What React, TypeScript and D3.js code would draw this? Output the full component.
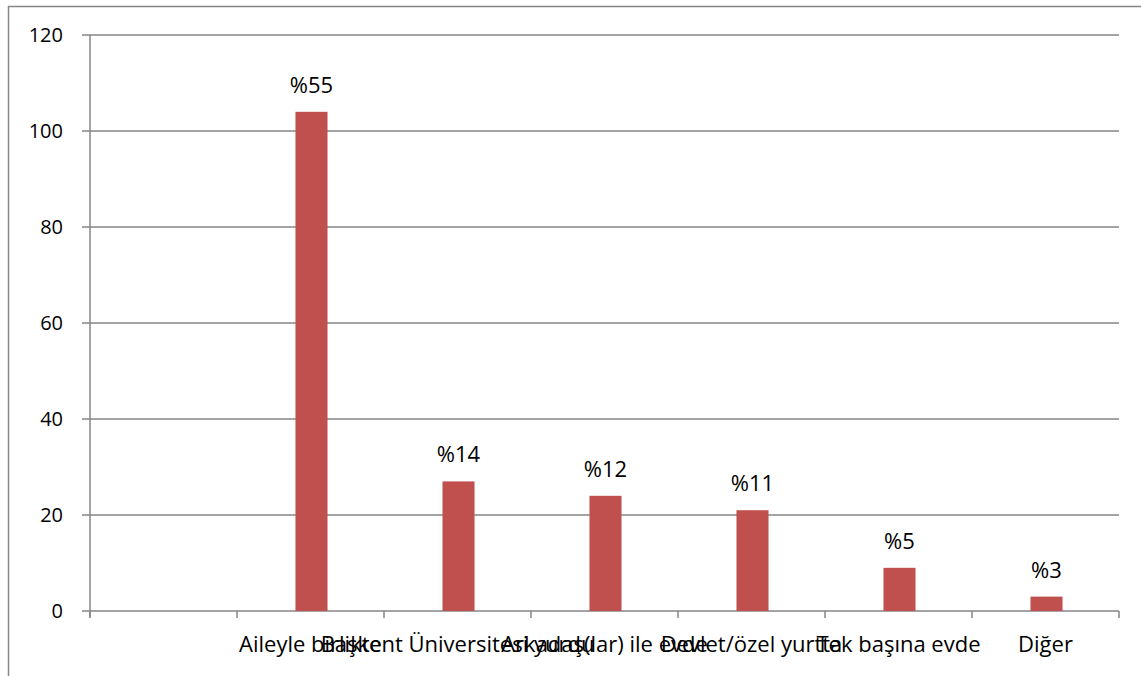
import React from "react";
import * as d3 from "d3";

const categories = ["", "Aileyle birlikte", "Başkent Üniversitesi yurdu", "Arkadaş(lar) ile evde", "Devlet/özel yurtta", "Tek başına evde", "Diğer"];
const values = [null, 104, 27, 24, 21, 9, 3];
const dataLabels = ["", "%55", "%14", "%12", "%11", "%5", "%3"];
const yTicks = [0, 20, 40, 60, 80, 100, 120];

const W = 1141;
const H = 676;
const M = { left: 90, right: 1119, top: 35, bottom: 611 };
const FONT = "'Open Sans', sans-serif";
const GRID = "#868686";
const BAR = "#C0504D";

export default function App() {
  const x = d3.scaleBand<number>().domain(d3.range(categories.length)).range([M.left, M.right]).paddingInner(0).paddingOuter(0);
  const y = d3.scaleLinear().domain([0, 120]).range([M.bottom, M.top]);
  const bw = x.bandwidth() * 0.218;
  const boundaries = d3.range(categories.length + 1).map((i) => M.left + i * x.step());

  return (
    <svg width={W} height={H} style={{ position: "absolute", left: 0, top: 0, background: "#fff" }} fontFamily={FONT}>
      <rect x={0} y={0} width={W} height={H} fill="#fff" />
      {/* outer border */}
      <line x1={8} x2={W} y1={6.5} y2={6.5} stroke={GRID} strokeWidth={1.5} />
      <line x1={8.5} x2={8.5} y1={6} y2={H} stroke={GRID} strokeWidth={1.5} />
      {/* gridlines */}
      {yTicks.map((t) => (
        <g key={t}>
          <line x1={M.left - 8} x2={M.right} y1={y(t)} y2={y(t)} stroke={GRID} strokeWidth={1.5} />
          <text x={63} y={y(t)} dy="0.36em" textAnchor="end" fontSize={20} fill="#000">{t}</text>
        </g>
      ))}
      {/* y axis */}
      <line x1={M.left} x2={M.left} y1={M.top} y2={M.bottom + 6} stroke={GRID} strokeWidth={1.5} />
      {/* x ticks */}
      {boundaries.map((b, i) => (
        <line key={i} x1={b} x2={b} y1={M.bottom} y2={M.bottom + 7} stroke={GRID} strokeWidth={1.5} />
      ))}
      {/* bars */}
      {values.map((v, i) =>
        v == null ? null : (
          <g key={i}>
            <rect x={(x(i) as number) + x.bandwidth() / 2 - bw / 2 + 1} y={y(v)} width={bw} height={y(0) - y(v)} fill={BAR} />
            <text x={(x(i) as number) + x.bandwidth() / 2 + 1} y={y(v) - 19} textAnchor="middle" fontSize={22} fill="#000">{dataLabels[i]}</text>
          </g>
        )
      )}
      {/* category labels */}
      {categories.map((c, i) => (
        <text key={i} x={(x(i) as number) + x.bandwidth() / 2} y={652} textAnchor="middle" fontSize={22} fill="#000">{c}</text>
      ))}
    </svg>
  );
}
